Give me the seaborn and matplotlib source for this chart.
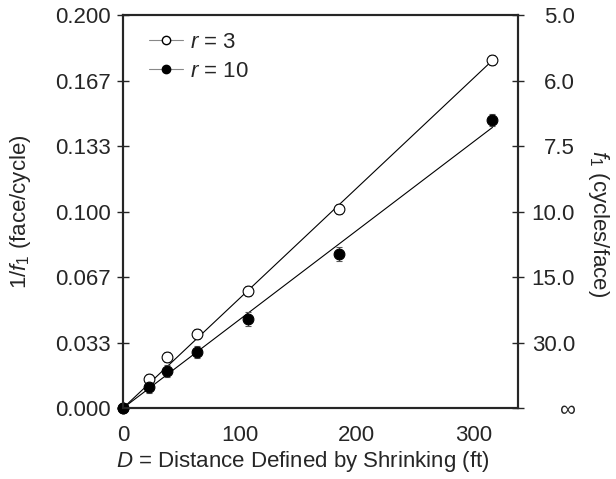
import numpy as np
import pandas as pd
import matplotlib
matplotlib.use("Agg")
import matplotlib.pyplot as plt
import seaborn as sns
from matplotlib.lines import Line2D

sns.set_style("white")
plt.rcParams['font.family'] = ['Liberation Sans', 'DejaVu Sans']
plt.rcParams['mathtext.fontset'] = 'custom'
plt.rcParams['mathtext.rm'] = 'Liberation Sans'
plt.rcParams['mathtext.it'] = 'Liberation Sans:italic'

# data
distance = [0, 22.2, 37.6, 63.2, 106.8, 184.6, 316.0]
inv_f_r3 = [0.0, 0.0147, 0.0259, 0.0377, 0.0595, 0.1013, 0.1770]
inv_f_r10 = [0.0, 0.0107, 0.0188, 0.0285, 0.0453, 0.0784, 0.1465]
err_r3 = [0.0, 0.0025, 0.0025, 0.0025, 0.0025, 0.0025, 0.0025]
err_r10 = [0.0, 0.0030, 0.0030, 0.0030, 0.0035, 0.0035, 0.0030]
left_ticks = [0.0, 0.2/6, 0.4/6, 0.1, 0.8/6, 1.0/6, 0.2]
left_labels = ["0.000", "0.033", "0.067", "0.100", "0.133", "0.167", "0.200"]
right_labels = ["\u221e", "30.0", "15.0", "10.0", "7.5", "6.0", "5.0"]
x_ticks = [0, 50, 100, 150, 200, 250, 300]
x_labels = ["0", "", "100", "", "200", "", "300"]

FS = 16

fig = plt.figure(figsize=(6.16, 4.79), dpi=100)
ax = fig.add_axes([0.1997, 0.148, 0.6415, 0.8207])

x = np.array(distance)
series = [("r3", inv_f_r3, err_r3, "white"), ("r10", inv_f_r10, err_r10, "black")]
for name, y, e, fc in series:
    y = np.array(y)
    slope = np.sum(x * y) / np.sum(x * x)
    fit = pd.DataFrame({"x": [0, x.max()], "y": [0, slope * x.max()]})
    sns.lineplot(data=fit, x="x", y="y", ax=ax, color="black", lw=0.8, zorder=2)
    ax.errorbar(x, y, yerr=e, fmt="none", ecolor="#555555", elinewidth=0.8,
                capsize=2.5, capthick=0.8, zorder=3, clip_on=False)
    df = pd.DataFrame({"x": x, "y": y})
    sns.scatterplot(data=df, x="x", y="y", ax=ax, s=60, facecolor=fc,
                    edgecolor="black", linewidth=0.8, zorder=4, clip_on=False)

ax.set_xlim(0, 338)
ax.set_ylim(0, 0.2)
ax.set_xticks(x_ticks)
ax.set_xticklabels(x_labels)
ax.set_yticks(left_ticks)
ax.set_yticklabels(left_labels)
ax.tick_params(axis="both", direction="inout", length=8, width=1.0, labelsize=FS)
ax.tick_params(axis="x", pad=8)
ax.tick_params(axis="y", pad=5)
for s in ax.spines.values():
    s.set_linewidth(1.5)
    s.set_color("black")
ax.set_xlabel("$D$ = Distance Defined by Shrinking (ft)", fontsize=FS)
ax.xaxis.set_label_coords(0.456, -0.105)
ax.set_ylabel("1/$f_1$ (face/cycle)", fontsize=FS)
ax.yaxis.set_label_coords(-0.228, 0.5)

ax2 = ax.twinx()
ax2.set_ylim(0, 0.2)
ax2.set_yticks(left_ticks)
ax2.set_yticklabels(right_labels, ha="right")
ax2.tick_params(axis="y", direction="inout", length=8, width=1.0, labelsize=FS, pad=37)
for s in ax2.spines.values():
    s.set_linewidth(1.5)
ax2.set_ylabel("$f_1$ (cycles/face)", fontsize=FS, rotation=-90, va="center")
ax2.yaxis.set_label_coords(1.203, 0.47)

handles = [
    Line2D([0], [0], color="#888888", lw=0.8, marker="o", markerfacecolor="white",
           markeredgecolor="black", markersize=6),
    Line2D([0], [0], color="#888888", lw=0.8, marker="o", markerfacecolor="black",
           markeredgecolor="black", markersize=6),
]
ax.legend(handles, ["$r$ = 3", "$r$ = 10"], loc="upper left", frameon=False,
          fontsize=FS, handlelength=1.55, bbox_to_anchor=(0.043, 0.98),
          borderaxespad=0.0, labelspacing=0.35, handletextpad=0.3)

fig.savefig("out.png", dpi=100)
